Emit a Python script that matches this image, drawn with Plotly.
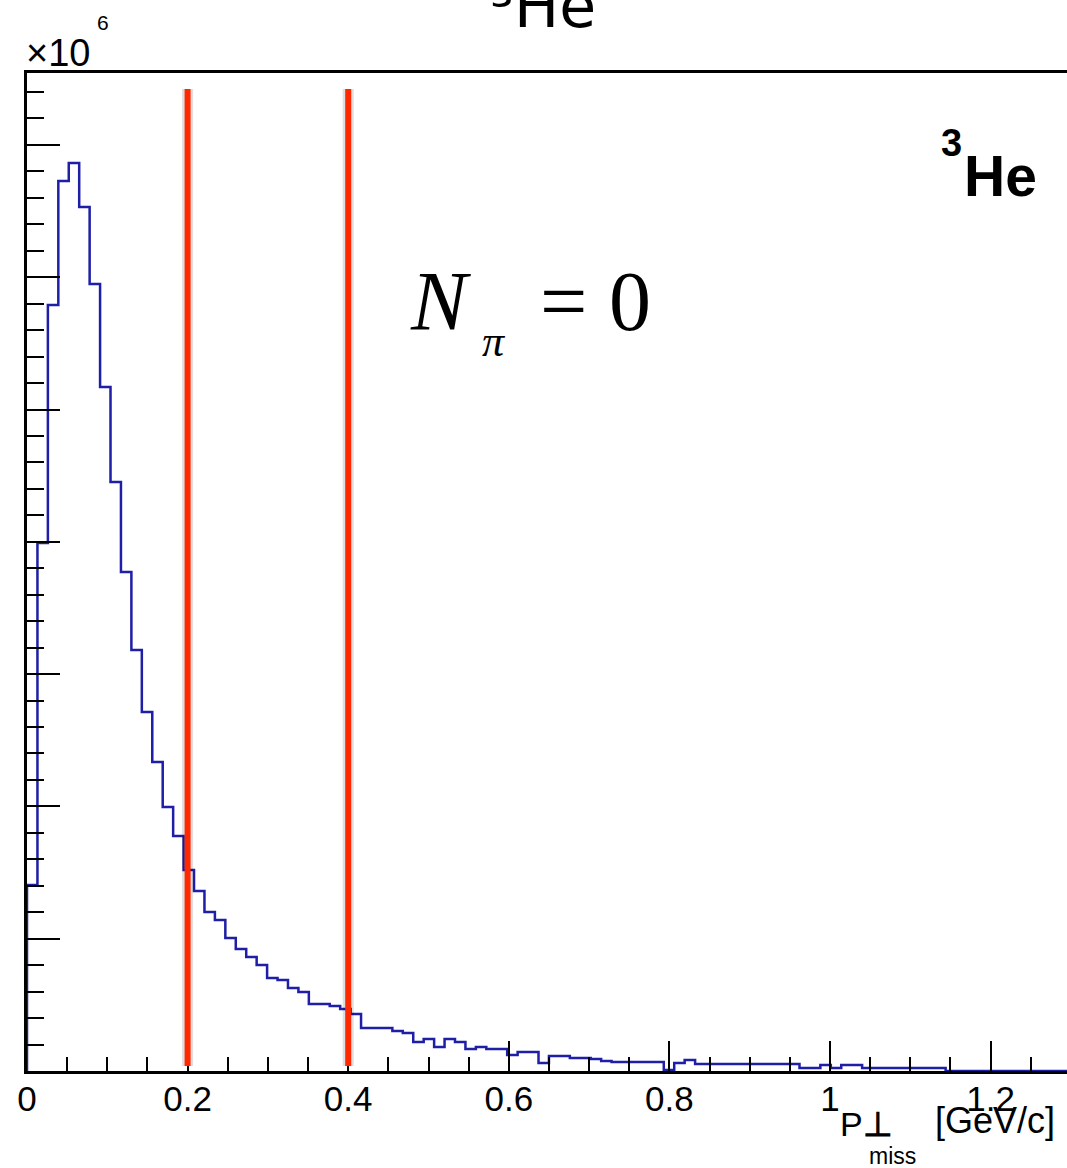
import numpy as np
import plotly.graph_objects as go

# ---------------- data ----------------
# histogram: 100 bins on [0, 1.3] GeV/c, counts per bin
bin_lo = 0.0
bin_hi = 1.3
n_bins = 100
counts = [
    140600, 399100, 579000, 672700, 686300, 653100, 594900, 517000, 445200, 377200,
    318200, 271400, 233600, 199500, 177600, 151900, 136100, 120200, 114100, 100500,
    92200, 86200, 80100, 70300, 68800, 62700, 59700, 50600, 50600, 49100,
    46900, 43100, 32500, 32500, 32500, 30200, 28700, 21900, 24200, 18100,
    24200, 21900, 16600, 18100, 16600, 16600, 12100, 14400, 14400, 6000,
    11300, 11300, 9800, 9800, 9100, 7600, 6800, 6800, 6800, 6800,
    6800, 800, 6000, 8300, 5300, 5300, 5300, 5300, 5300, 5300,
    5300, 5300, 5300, 5300, 2300, 2300, 4500, 2300, 4500, 4500,
    2300, 2300, 2300, 2300, 2300, 2300, 2300, 2300, 0, 0,
    0, 0, 0, 0, 0, 0, 0, 0, 0, 0,
]
cut_values = [0.2, 0.4]
x_tick_values = [0, 0.2, 0.4, 0.6, 0.8, 1.0, 1.2]
x_tick_labels = ["0", "0.2", "0.4", "0.6", "0.8", "1", "1.2"]

# ---------------- layout helpers ----------------
W, H = 1067, 1168
ML, MT, MB = 27, 73, 97
PW = W - ML
PH = H - MT - MB
px_per_unit = 803.0
y_major = 100000
y_px_per_major = 132.3


def px_x(p):
    return (p - ML) / PW


def px_y(p):
    return (H - MB - p) / PH


edges = np.linspace(bin_lo, bin_hi, n_bins + 1)
xs = [bin_lo] + list(edges[:-1]) + [bin_hi]
ys = [0] + list(counts) + [counts[-1]]

fig = go.Figure()
fig.add_trace(go.Scatter(
    x=xs, y=ys, mode="lines", line=dict(shape="hv", color="#1e1ea6", width=2.5),
    hoverinfo="skip", showlegend=False,
))

# red cut lines with faint shadow
for c in cut_values:
    fig.add_shape(type="line", xref="x", yref="paper", x0=c, x1=c,
                  y0=px_y(1066), y1=px_y(89),
                  line=dict(color="rgba(0,0,0,0.13)", width=11), layer="above")
    fig.add_shape(type="line", xref="x", yref="paper", x0=c, x1=c,
                  y0=px_y(1066), y1=px_y(89),
                  line=dict(color="#ff2800", width=6), layer="above")

x_max = PW / px_per_unit
y_max = PH / y_px_per_major * y_major

axis_font = dict(family="Liberation Sans, Arial, sans-serif", size=35, color="black")

fig.update_layout(
    width=W, height=H,
    margin=dict(l=ML, r=0, t=MT, b=MB, pad=0),
    paper_bgcolor="white", plot_bgcolor="white",
    showlegend=False,
    xaxis=dict(
        range=[0, x_max], showgrid=False, zeroline=False,
        showline=True, linecolor="black", linewidth=2.5, mirror=True,
        ticks="inside", ticklen=30, tickwidth=2, tickcolor="black",
        tickvals=x_tick_values, ticktext=x_tick_labels,
        tickfont=axis_font, ticklabelstandoff=-5,
        minor=dict(dtick=0.05, tick0=0, ticks="inside", ticklen=14, tickwidth=2,
                   tickcolor="black", showgrid=False),
    ),
    yaxis=dict(
        range=[0, y_max], showgrid=False, zeroline=False,
        showline=True, linecolor="black", linewidth=2.5, mirror=False,
        ticks="inside", ticklen=33, tickwidth=2, tickcolor="black",
        dtick=y_major, tick0=0, showticklabels=False,
        minor=dict(dtick=y_major / 5, tick0=0, ticks="inside", ticklen=17, tickwidth=2,
                   tickcolor="black", showgrid=False),
    ),
)

sans = "Liberation Sans, Arial, sans-serif"
serif = "Liberation Serif, Times New Roman, serif"
ann = []
# cut-off title at top
ann.append(dict(text="³He", x=px_x(598), y=px_y(6), xanchor="right", yanchor="middle",
                font=dict(family="DejaVu Sans, Verdana, sans-serif", size=60, color="black")))
# x10^6 exponent
ann.append(dict(text="×10", x=px_x(24), y=px_y(53), xanchor="left", yanchor="middle",
                font=dict(family=sans, size=38, color="black")))
ann.append(dict(text="6", x=px_x(103), y=px_y(22), xanchor="center", yanchor="middle",
                font=dict(family=sans, size=21, color="black")))
# 3He label inside
ann.append(dict(text="<b>He</b>", x=px_x(962), y=px_y(176), xanchor="left", yanchor="middle",
                font=dict(family=sans, size=57, color="black")))
ann.append(dict(text="<b>3</b>", x=px_x(951), y=px_y(143), xanchor="center", yanchor="middle",
                font=dict(family=sans, size=38, color="black")))
# N_pi = 0
ann.append(dict(text="<i>N</i>", x=px_x(408), y=px_y(301), xanchor="left", yanchor="middle",
                font=dict(family=serif, size=84, color="black")))
ann.append(dict(text="<i>π</i>", x=px_x(494), y=px_y(341), xanchor="center", yanchor="middle",
                font=dict(family=serif, size=44, color="black")))
ann.append(dict(text="=", x=px_x(563), y=px_y(301), xanchor="center", yanchor="middle",
                font=dict(family=serif, size=84, color="black")))
ann.append(dict(text="0", x=px_x(630), y=px_y(301), xanchor="center", yanchor="middle",
                font=dict(family=serif, size=84, color="black")))
# axis title
ann.append(dict(text="P<b>⊥</b>", x=px_x(838), y=px_y(1124), xanchor="left", yanchor="middle",
                font=dict(family=sans, size=34, color="black")))
ann.append(dict(text="miss", x=px_x(892), y=px_y(1156), xanchor="center", yanchor="middle",
                font=dict(family=sans, size=23, color="black")))
ann.append(dict(text="[GeV/c]", x=px_x(933), y=px_y(1120), xanchor="left", yanchor="middle",
                font=dict(family=sans, size=36, color="black")))

for a in ann:
    a.update(xref="paper", yref="paper", showarrow=False)
fig.update_layout(annotations=ann)

fig.write_html("out.html")
